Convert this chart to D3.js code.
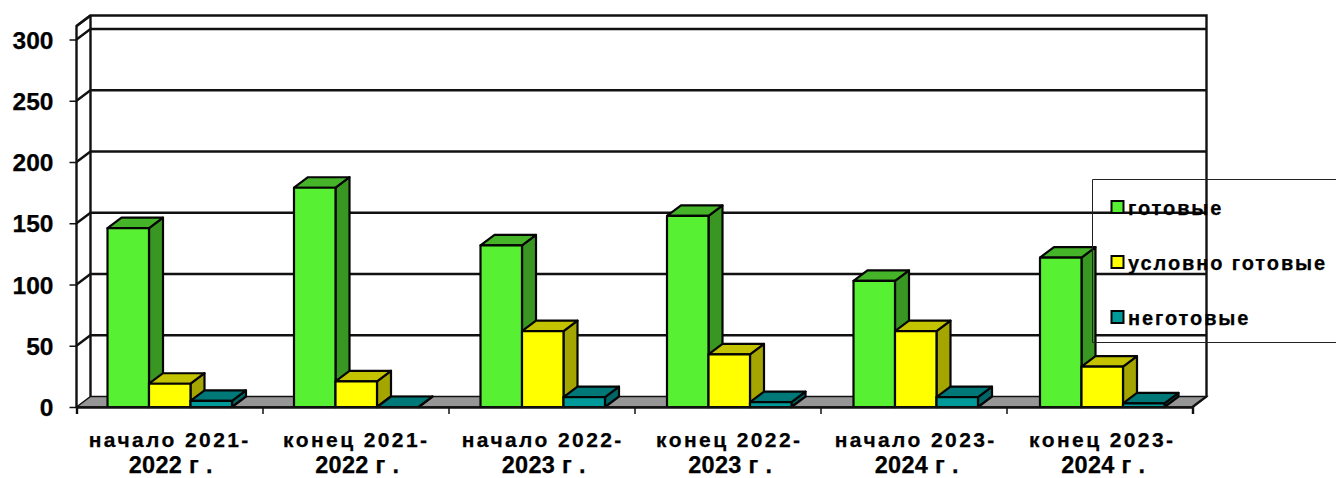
<!DOCTYPE html>
<html><head><meta charset="utf-8">
<script src="https://cdn.jsdelivr.net/npm/d3@7"></script>
<style>
html,body{margin:0;padding:0;background:#fff;overflow:hidden}
text{font-family:"Liberation Sans",Arial,sans-serif;font-weight:bold;fill:#000;stroke:#000;stroke-width:.25px}
</style></head><body><svg id="c" width="1336" height="478"></svg>
<script>
const categories=["начало 2021-|2022 г .","конец 2021-|2022 г .","начало 2022-|2023 г .","конец 2022-|2023 г .","начало 2023-|2024 г .","конец 2023-|2024 г ."];
const seriesNames=["готовые","условно готовые","неготовые"];
const gotovye=[146,179,132,156,103,122];
const uslovno=[19,21,62,43,62,33];
const negotovye=[5,0,8,4,8,3];
const tickValues=[0,50,100,150,200,250,300];
const frontFill=["#58f032","#ffff00","#009a9a"];
const topFill=["#46b428","#c3c300","#007878"];
const sideFill=["#3a9622","#a5a500","#006666"];
const allSeries=[gotovye,uslovno,negotovye];

const svg=d3.select("#c");
const L=76.5,R=1192.5;
const x=d3.scaleBand().domain(d3.range(categories.length)).range([L,L+6*186.5]);
const inner=d3.scaleBand().domain([0,1,2]).range([0,124.5]);
const y=d3.scaleLinear().domain([0,300]).range([407,39.5]);
const yMax=311;
const dx=14,dy=-10.5;
const poly=p=>p.map(a=>a.join(",")).join(" ");
const ink="#111";

// floor
svg.append("polygon").attr("points",poly([[L,y(0)],[L+dx,y(0)+dy],[R+dx,y(0)+dy],[R,y(0)]]))
 .attr("fill","#969696").attr("stroke",ink).attr("stroke-width",1.5);
// walls
const wall=svg.append("g").attr("fill","none").attr("stroke",ink).attr("stroke-width",2.4);
tickValues.slice(1).forEach(v=>{
  wall.append("polyline").attr("points",poly([[L,y(v)],[L+dx,y(v)+dy],[R+dx,y(v)+dy]]));
});
wall.append("polyline").attr("points",poly([[L,y(0)],[L,y(yMax)],[L+dx,y(yMax)+dy],[R+dx,y(yMax)+dy],[R+dx,y(0)+dy],[R,y(0)]]));
wall.append("line").attr("x1",L+dx).attr("x2",L+dx).attr("y1",y(0)+dy).attr("y2",y(yMax)+dy);
wall.append("line").attr("x1",L).attr("x2",L+dx).attr("y1",y(yMax)).attr("y2",y(yMax)+dy);

// bars
categories.forEach((c,i)=>{
  const x0=x(i)+x.bandwidth()/2-62.25;
  allSeries.forEach((s,k)=>{
    const g=svg.append("g").attr("stroke","#050505").attr("stroke-width",2.2).attr("stroke-linejoin","round");
    const a=x0+inner(k),b=a+inner.bandwidth(),t=y(s[i]),z=y(0);
    g.append("polygon").attr("points",poly([[b,t],[b+dx,t+dy],[b+dx,z+dy],[b,z]])).attr("fill",sideFill[k]);
    g.append("polygon").attr("points",poly([[a,t],[a+dx,t+dy],[b+dx,t+dy],[b,t]])).attr("fill",topFill[k]);
    g.append("rect").attr("x",a).attr("y",t).attr("width",b-a).attr("height",z-t).attr("fill",frontFill[k]);
  });
});

// axes
const ya=svg.append("g").attr("transform",`translate(${L},0)`).call(d3.axisLeft(y).tickValues(tickValues).tickSize(7).tickPadding(16));
ya.select(".domain").remove();
ya.selectAll("line").attr("stroke",ink).attr("stroke-width",1.5);
ya.selectAll("text").attr("font-size",24.5).attr("dy","0.35em");
const xTicks=d3.range(categories.length+1).map(i=>L+i*(R-L)/6);
const xa=svg.append("g").attr("transform",`translate(0,${y(0)})`).call(d3.axisBottom(d3.scaleLinear().domain([L,R]).range([L,R])).tickValues(xTicks).tickSize(7).tickFormat(""));
xa.selectAll("line").attr("stroke",ink).attr("stroke-width",1.5);
xa.select(".domain").attr("stroke",ink).attr("stroke-width",2.4);

// category labels
categories.forEach((c,i)=>{
  const [l1,l2]=c.split("|"),cx=x(i)+x.bandwidth()/2;
  svg.append("text").attr("x",cx).attr("y",447).attr("text-anchor","middle").attr("font-size",21).attr("letter-spacing",2.4).text(l1);
  svg.append("text").attr("x",cx+1).attr("y",473).attr("text-anchor","middle").attr("font-size",23.5).attr("letter-spacing",.3).text(l2);
});

// legend
const lg=svg.append("g");
lg.append("path").attr("d","M1336,179.5H1092.5V342.5H1336").attr("fill","none").attr("stroke","#222").attr("stroke-width",1);
seriesNames.forEach((n,k)=>{
  const yy=207+k*55;
  lg.append("rect").attr("x",1111.5).attr("y",yy-6).attr("width",12).attr("height",12).attr("fill",frontFill[k]).attr("stroke","#050505").attr("stroke-width",2);
  lg.append("text").attr("x",1128).attr("y",yy+8).attr("font-size",20).attr("letter-spacing",1.9).text(n);
});
</script></body></html>
